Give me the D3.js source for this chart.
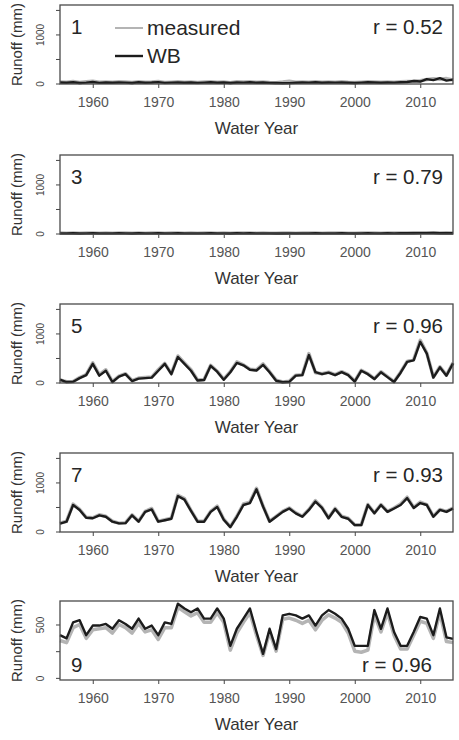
<!DOCTYPE html>
<html>
<head>
<meta charset="utf-8">
<script src="https://cdn.jsdelivr.net/npm/d3@7"></script>
<style>
  body { margin: 0; background: #fff; }
  svg { display: block; }
  text { font-family: "Liberation Sans", Arial, sans-serif; }
</style>
</head>
<body>
<svg id="chart" width="459" height="740"></svg>
<script>
// Annual runoff (mm), measured vs. water-balance (WB) estimate, for five catchments
const years = [
  1955,1956,1957,1958,1959,1960,1961,1962,1963,1964,
  1965,1966,1967,1968,1969,1970,1971,1972,1973,1974,
  1975,1976,1977,1978,1979,1980,1981,1982,1983,1984,
  1985,1986,1987,1988,1989,1990,1991,1992,1993,1994,
  1995,1996,1997,1998,1999,2000,2001,2002,2003,2004,
  2005,2006,2007,2008,2009,2010,2011,2012,2013,2014,
  2015
];
const xTickYears = [1960, 1970, 1980, 1990, 2000, 2010];
const panelIds = ["1", "3", "5", "7", "9"];
const rValues = ["0.52", "0.79", "0.96", "0.93", "0.96"];
const legendLabels = ["measured", "WB"];

const yTicksMain = [0, 500, 1000, 1500];
const yTickLabelsMain = ["0", "", "1000", ""];
const yTicksLow = [0, 250, 500];
const yTickLabelsLow = ["0", "", "500"];

const measured1 = [
  30,25,40,20,35,45,25,30,28,35,
  30,20,38,25,30,40,22,28,35,25,
  32,22,30,38,25,30,18,35,30,38,
  25,30,22,18,30,45,28,30,28,35,
  25,30,28,35,25,20,28,35,30,25,
  32,28,35,40,45,55,80,95,85,100,
  70
];
const wb1 = [
  20,15,25,10,18,30,12,20,15,22,
  18,10,25,15,20,28,12,18,22,15,
  20,12,18,25,15,20,10,22,18,25,
  15,20,12,10,5,8,15,20,18,25,
  15,20,18,22,15,10,18,25,20,15,
  22,18,25,30,50,40,90,70,110,60,
  80
];

const measured3 = [
  8,6,10,5,9,12,7,8,6,9,
  8,5,10,7,9,11,6,8,10,7,
  9,6,8,10,7,9,5,10,8,11,
  7,9,6,5,8,12,7,9,8,10,
  7,9,8,10,7,5,8,10,9,7,
  9,8,10,12,13,15,14,16,12,15,
  11
];
const wb3 = [
  3,2,4,1,3,5,2,3,2,4,
  3,1,4,2,3,5,2,3,4,2,
  3,2,3,4,2,3,1,4,3,4,
  2,3,2,1,1,2,2,3,3,4,
  2,3,3,4,2,1,3,4,3,2,
  4,3,4,5,6,7,8,9,6,8,
  5
];

const measured5 = [
  50,15,20,100,160,400,160,260,20,130,
  180,40,90,100,110,260,390,180,540,400,
  260,50,60,350,230,70,220,420,360,270,
  260,380,220,50,10,25,150,160,590,200,
  180,210,160,220,160,30,250,180,80,220,
  120,20,210,430,470,860,600,110,320,150,
  400
];
const wb5 = [
  60,10,15,90,150,380,140,240,10,120,
  170,30,80,90,100,240,380,170,520,380,
  240,40,50,340,220,55,210,400,350,260,
  245,360,210,35,5,15,140,150,560,210,
  170,200,150,210,150,20,240,170,70,210,
  110,10,200,420,450,830,590,100,310,140,
  390
];

const measured7 = [
  170,210,560,450,290,280,340,310,210,170,
  180,340,210,410,470,210,240,270,740,670,
  430,210,210,410,520,250,100,310,560,600,
  880,520,210,310,410,480,380,310,450,630,
  490,280,470,310,270,140,140,550,380,550,
  410,480,560,700,490,600,550,310,450,410,
  480
];
const wb7 = [
  160,200,540,440,280,270,330,300,200,165,
  170,330,200,400,450,200,230,260,720,650,
  420,200,200,400,500,240,90,300,540,580,
  860,510,200,300,400,470,370,300,440,610,
  480,270,460,300,260,130,130,540,370,540,
  400,470,540,680,480,580,540,300,440,400,
  470
];

const measured9 = [
  350,330,470,500,370,450,460,470,420,500,
  470,420,510,430,450,360,470,470,660,620,
  580,610,520,520,610,520,260,420,520,610,
  400,210,430,250,550,560,540,510,540,450,
  540,590,560,520,420,250,240,260,590,430,
  610,400,270,270,400,530,510,370,610,340,
  330
];
const wb9 = [
  400,370,520,540,400,490,490,505,460,540,
  505,460,555,460,490,400,520,505,695,650,
  615,650,555,555,650,555,300,460,555,650,
  430,225,460,270,585,600,585,555,585,490,
  585,635,600,555,460,300,300,300,635,460,
  650,430,300,300,430,570,555,400,650,380,
  365
];

// Panel setup: series, y range and where the labels go
const panels = [
  { measured: measured1, wb: wb1, yDomain: [-10, 1600], yTicks: yTicksMain, yLabels: yTickLabelsMain, top: 5,   labelsAtTop: true,  legend: true },
  { measured: measured3, wb: wb3, yDomain: [-10, 1600], yTicks: yTicksMain, yLabels: yTickLabelsMain, top: 155, labelsAtTop: true },
  { measured: measured5, wb: wb5, yDomain: [-10, 1600], yTicks: yTicksMain, yLabels: yTickLabelsMain, top: 304, labelsAtTop: true },
  { measured: measured7, wb: wb7, yDomain: [-10, 1600], yTicks: yTicksMain, yLabels: yTickLabelsMain, top: 453, labelsAtTop: true },
  { measured: measured9, wb: wb9, yDomain: [-20, 720],  yTicks: yTicksLow,  yLabels: yTickLabelsLow,  top: 601, labelsAtTop: false }
];

const svg = d3.select("#chart");
const left = 60, right = 453, plotH = 79;
const x = d3.scaleLinear().domain([1955, 2015]).range([left, right]);

const measuredColor = "#b4b4b4";
const wbColor = "#1c1c1c";
const textColor = "#262626";

panels.forEach((p, i) => {
  const top = p.top, bottom = top + plotH;
  const y = d3.scaleLinear().domain(p.yDomain).range([bottom, top]);
  const g = svg.append("g");

  // x axis
  const xAxis = g.append("g")
    .attr("transform", `translate(0,${bottom})`)
    .call(d3.axisBottom(x).tickValues(xTickYears).tickSize(4).tickPadding(9).tickFormat(d3.format("d")));
  xAxis.select(".domain").remove();
  xAxis.selectAll("line").attr("stroke", "#444");
  xAxis.selectAll("text")
    .attr("font-size", 14)
    .attr("fill", "#555")
    .style("font-family", "'Liberation Sans', Arial, sans-serif");

  // y axis with labels parallel to the axis
  const yAxis = g.append("g")
    .attr("transform", `translate(${left},0)`)
    .call(d3.axisLeft(y).tickValues(p.yTicks).tickSize(4).tickFormat((d, k) => p.yLabels[k]));
  yAxis.select(".domain").remove();
  yAxis.selectAll("line").attr("stroke", "#444");
  yAxis.selectAll("text")
    .attr("x", null).attr("dy", null)
    .attr("transform", "translate(-16,0) rotate(-90)")
    .attr("text-anchor", "middle")
    .attr("font-size", 10)
    .attr("fill", "#444")
    .style("font-family", "'Liberation Sans', Arial, sans-serif");

  // series lines
  const line = d3.line().x((d, k) => x(years[k])).y(d => y(d));
  g.append("path")
    .datum(p.measured)
    .attr("d", line)
    .attr("fill", "none")
    .attr("stroke", measuredColor)
    .attr("stroke-width", 3.5)
    .attr("stroke-linejoin", "round");
  g.append("path")
    .datum(p.wb)
    .attr("d", line)
    .attr("fill", "none")
    .attr("stroke", wbColor)
    .attr("stroke-width", 2.4)
    .attr("stroke-linejoin", "round");

  // plot frame
  g.append("rect")
    .attr("x", left).attr("y", top)
    .attr("width", right - left).attr("height", plotH)
    .attr("fill", "none")
    .attr("stroke", "#4a4a4a")
    .attr("stroke-width", 1.3);

  // axis titles
  g.append("text")
    .attr("x", (left + right) / 2).attr("y", bottom + 50)
    .attr("text-anchor", "middle")
    .attr("font-size", 17)
    .attr("fill", "#333")
    .text("Water Year");
  g.append("text")
    .attr("transform", `translate(22,${(top + bottom) / 2}) rotate(-90)`)
    .attr("text-anchor", "middle")
    .attr("font-size", 15)
    .attr("fill", "#333")
    .text("Runoff (mm)");

  // catchment number and correlation
  const labelY = p.labelsAtTop ? top + 29 : bottom - 8;
  g.append("text")
    .attr("x", 71).attr("y", labelY)
    .attr("font-size", 20.5)
    .attr("fill", textColor)
    .text(panelIds[i]);
  g.append("text")
    .attr("x", p.labelsAtTop ? 443 : 432).attr("y", labelY)
    .attr("text-anchor", "end")
    .attr("font-size", 20.5)
    .attr("fill", textColor)
    .text(`r = ${rValues[i]}`);

  // legend
  if (p.legend) {
    const items = [
      { label: legendLabels[0], color: measuredColor, w: 2, ly: top + 23 },
      { label: legendLabels[1], color: wbColor, w: 2.4, ly: top + 51 }
    ];
    items.forEach(it => {
      g.append("line")
        .attr("x1", 115).attr("x2", 143)
        .attr("y1", it.ly).attr("y2", it.ly)
        .attr("stroke", it.color).attr("stroke-width", it.w);
      g.append("text")
        .attr("x", 147).attr("y", it.ly + 7)
        .attr("font-size", 21)
        .attr("fill", textColor)
        .text(it.label);
    });
  }
});
</script>
</body>
</html>
